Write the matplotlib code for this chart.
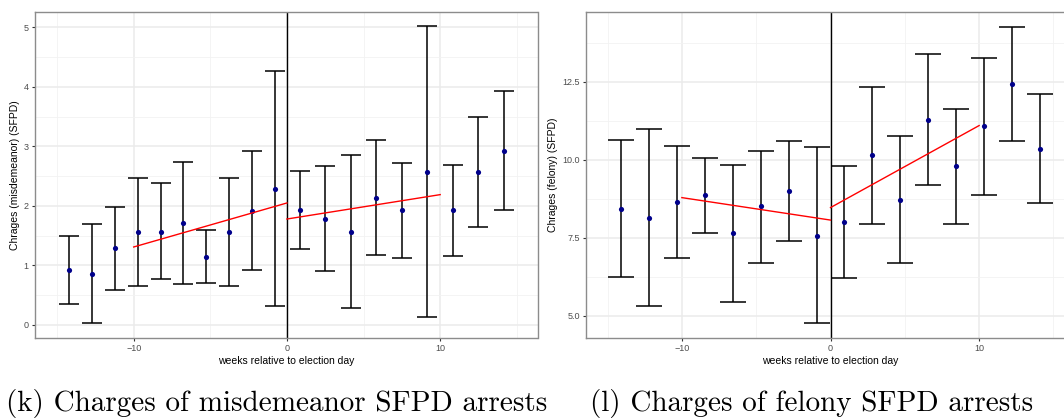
import matplotlib
matplotlib.use('agg')
import matplotlib.pyplot as plt
from matplotlib.ticker import MultipleLocator

# misdemeanor charges per arrest, weekly bins around election day
mis_weeks = [-14.25, -12.75, -11.25, -9.75, -8.25, -6.75, -5.25, -3.75, -2.25, -0.75,
             0.83, 2.5, 4.17, 5.83, 7.5, 9.17, 10.83, 12.5, 14.17]
mis_mean = [0.93, 0.86, 1.29, 1.57, 1.57, 1.72, 1.14, 1.57, 1.92, 2.28,
            1.93, 1.78, 1.57, 2.14, 1.93, 2.57, 1.93, 2.57, 2.93]
mis_low = [0.35, 0.03, 0.59, 0.66, 0.77, 0.68, 0.70, 0.66, 0.93, 0.31,
           1.28, 0.90, 0.28, 1.18, 1.13, 0.13, 1.16, 1.64, 1.93]
mis_high = [1.50, 1.69, 1.98, 2.47, 2.38, 2.74, 1.59, 2.47, 2.92, 4.26,
            2.58, 2.67, 2.86, 3.10, 2.73, 5.02, 2.69, 3.49, 3.93]
mis_fit_pre = [1.31, 2.05]
mis_fit_post = [1.78, 2.19]

# felony charges per arrest
fel_weeks = [-14.09, -12.21, -10.34, -8.46, -6.58, -4.70, -2.82, -0.94,
             0.94, 2.82, 4.70, 6.58, 8.46, 10.34, 12.21, 14.09]
fel_mean = [8.43, 8.14, 8.65, 8.86, 7.65, 8.51, 9.00, 7.57,
            8.00, 10.15, 8.71, 11.29, 9.79, 11.08, 12.43, 10.36]
fel_low = [6.23, 5.32, 6.86, 7.67, 5.43, 6.70, 7.40, 4.76,
           6.21, 7.96, 6.69, 9.21, 7.96, 8.87, 10.61, 8.62]
fel_high = [10.63, 10.98, 10.44, 10.05, 9.85, 10.29, 10.60, 10.40,
            9.80, 12.33, 10.75, 13.38, 11.62, 13.27, 14.26, 12.10]
fel_fit_pre = [8.79, 8.07]
fel_fit_post = [8.47, 11.10]

fit_pre_x = [-10, 0]
fit_post_x = [0, 10]

plt.rcParams['font.family'] = ['Liberation Sans', 'DejaVu Sans']

W, H = 1064, 420
fig = plt.figure(figsize=(W / 100, H / 100), dpi=100)


def panel(rect, weeks, mean, low, high, fit_pre, fit_post, ylabel, capsize,
          xlim, ylim, ymajor):
    ax = fig.add_axes([rect[0] / W, 1 - rect[3] / H, (rect[2] - rect[0]) / W,
                       (rect[3] - rect[1]) / H])
    ax.set_xlim(*xlim)
    ax.set_ylim(*ylim)
    ax.xaxis.set_major_locator(MultipleLocator(10))
    ax.xaxis.set_minor_locator(MultipleLocator(5))
    ax.yaxis.set_major_locator(MultipleLocator(ymajor))
    ax.yaxis.set_minor_locator(MultipleLocator(ymajor / 2))
    ax.grid(which='major', color='#ebebeb', lw=1.1)
    ax.grid(which='minor', color='#f2f2f2', lw=0.6)
    ax.set_axisbelow(True)
    for s in ax.spines.values():
        s.set_color('#8c8c8c')
        s.set_linewidth(1.0)
    ax.tick_params(which='major', length=2.5, width=0.8, color='#333333',
                   labelsize=6.5, labelcolor='#4d4d4d', pad=2)
    ax.tick_params(which='minor', length=0)

    yerr = [[m - l for m, l in zip(mean, low)], [h - m for m, h in zip(mean, high)]]
    ax.errorbar(weeks, mean, yerr=yerr, fmt='none', ecolor='black', elinewidth=1.1,
                capsize=capsize, capthick=1.1, zorder=3)
    ax.scatter(weeks, mean, s=14, color='#00008b', zorder=4, linewidths=0)
    ax.plot(fit_pre_x, fit_pre, color='red', lw=1.0, zorder=5)
    ax.plot(fit_post_x, fit_post, color='red', lw=1.0, zorder=5)
    ax.axvline(0, color='black', lw=1.0, zorder=2)

    ax.set_xlabel('weeks relative to election day', fontsize=7.5, labelpad=2)
    ax.set_ylabel(ylabel, fontsize=7.5, labelpad=3)
    return ax


panel((35, 12, 537.5, 338), mis_weeks, mis_mean, mis_low, mis_high,
      mis_fit_pre, mis_fit_post, 'Chrages (misdemeanor) (SFPD)', 7.5,
      (-16.44, 16.35), (-0.22, 5.26), 1)
panel((586, 12, 1075, 338), fel_weeks, fel_mean, fel_low, fel_high,
      fel_fit_pre, fel_fit_post, 'Chrages (felony) (SFPD)', 9.2,
      (-16.45, 16.45), (4.29, 14.74), 2.5)

fig.text(277 / W, 1 - 411.5 / H, '(k) Charges of misdemeanor SFPD arrests',
         family='cmr10', fontsize=21, ha='center', va='baseline')
fig.text(812 / W, 1 - 411.5 / H, '(l) Charges of felony SFPD arrests',
         family='cmr10', fontsize=21, ha='center', va='baseline')

fig.savefig('out.png', dpi=100)
